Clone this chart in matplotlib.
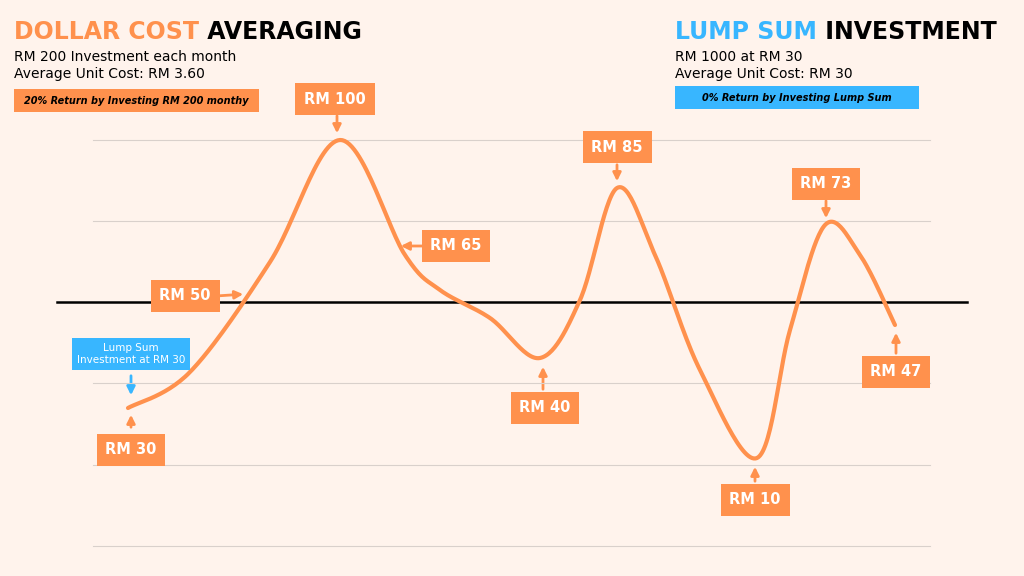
import numpy as np
import matplotlib.pyplot as plt
from matplotlib.patches import FancyArrowPatch

BG = "#fff3ec"
ORANGE = "#ff914d"
BLUE = "#38b6ff"

# curve points (x, y in figure pixels)
curve_x = [128, 190, 270, 340, 405, 440, 490, 540, 580, 617, 655, 700, 757, 790, 825, 860, 895]
curve_y = [408, 372, 262, 140, 255, 290, 318, 358, 300, 188, 255, 370, 458, 330, 225, 255, 325]
grid_y = [140, 221, 383, 465, 546]
mid_y = 302

# price labels: text, box centre, arrow start, arrow end
labels = [
    ("RM 30", (131, 450), (131, 430), (131, 412)),
    ("RM 50", (185, 296), (216, 296), (246, 294)),
    ("RM 100", (335, 99), (337, 113), (337, 136)),
    ("RM 65", (456, 246), (428, 246), (398, 246)),
    ("RM 40", (545, 408), (543, 392), (543, 364)),
    ("RM 85", (617, 147), (617, 162), (617, 184)),
    ("RM 10", (755, 500), (755, 484), (755, 464)),
    ("RM 73", (826, 184), (826, 198), (826, 221)),
    ("RM 47", (896, 372), (896, 356), (896, 330)),
]

def catmull(xs, ys, n=30):
    p = np.column_stack([xs, ys]).astype(float)
    p = np.vstack([p[0], p, p[-1]])
    out = []
    for i in range(1, len(p) - 2):
        t = np.linspace(0, 1, n)[:, None]
        p0, p1, p2, p3 = p[i - 1], p[i], p[i + 1], p[i + 2]
        out.append(0.5 * ((2 * p1) + (-p0 + p2) * t + (2 * p0 - 5 * p1 + 4 * p2 - p3) * t**2
                          + (-p0 + 3 * p1 - 3 * p2 + p3) * t**3))
    return np.vstack(out)

fig = plt.figure(figsize=(10.24, 5.76), dpi=100, facecolor=BG)
ax = fig.add_axes([0, 0, 1, 1])
ax.set_facecolor(BG)
ax.set_xlim(0, 1024)
ax.set_ylim(576, 0)
ax.axis("off")

for g in grid_y:
    ax.plot([93, 930], [g, g], color="#d9d0cb", lw=0.8)
ax.plot([57, 967], [mid_y, mid_y], color="black", lw=1.8)

c = catmull(curve_x, curve_y)
ax.plot(c[:, 0], c[:, 1], color=ORANGE, lw=3, solid_capstyle="round")

for txt, (bx, by), a0, a1 in labels:
    ax.text(bx, by, txt, ha="center", va="center", color="white", fontsize=10.5, fontweight="bold",
            bbox=dict(boxstyle="square,pad=0.6", fc=ORANGE, ec="none"))
    ax.add_patch(FancyArrowPatch(a0, a1, arrowstyle="-|>", mutation_scale=12, color=ORANGE, lw=2))

ax.text(131, 354, "Lump Sum\nInvestment at RM 30", ha="center", va="center", color="white", fontsize=7.5,
        bbox=dict(boxstyle="square,pad=0.5", fc=BLUE, ec="none"))
ax.add_patch(FancyArrowPatch((131, 373), (131, 398), arrowstyle="-|>", mutation_scale=12, color=BLUE, lw=2))

# headers
def header(x, first, second, color):
    t = ax.text(x, 32, first, color=color, fontsize=17, fontweight="bold", va="center")
    ax.annotate(" " + second, xy=(1, 0.5), xycoords=t, va="center", color="black",
                fontsize=17, fontweight="bold")

header(14, "DOLLAR COST", "AVERAGING", ORANGE)
ax.text(14, 57, "RM 200 Investment each month", fontsize=10, va="center")
ax.text(14, 74, "Average Unit Cost: RM 3.60", fontsize=10, va="center")
ax.add_patch(plt.Rectangle((14, 89), 245, 23, fc=ORANGE, ec="none"))
ax.text(136, 101, "20% Return by Investing RM 200 monthy", fontsize=7, fontweight="bold",
        fontstyle="italic", ha="center", va="center")

header(675, "LUMP SUM", "INVESTMENT", BLUE)
ax.text(675, 57, "RM 1000 at RM 30", fontsize=10, va="center")
ax.text(675, 74, "Average Unit Cost: RM 30", fontsize=10, va="center")
ax.add_patch(plt.Rectangle((675, 86), 244, 23, fc=BLUE, ec="none"))
ax.text(797, 98, "0% Return by Investing Lump Sum", fontsize=7, fontweight="bold",
        fontstyle="italic", ha="center", va="center")

fig.savefig("out.png", dpi=100, facecolor=BG)
